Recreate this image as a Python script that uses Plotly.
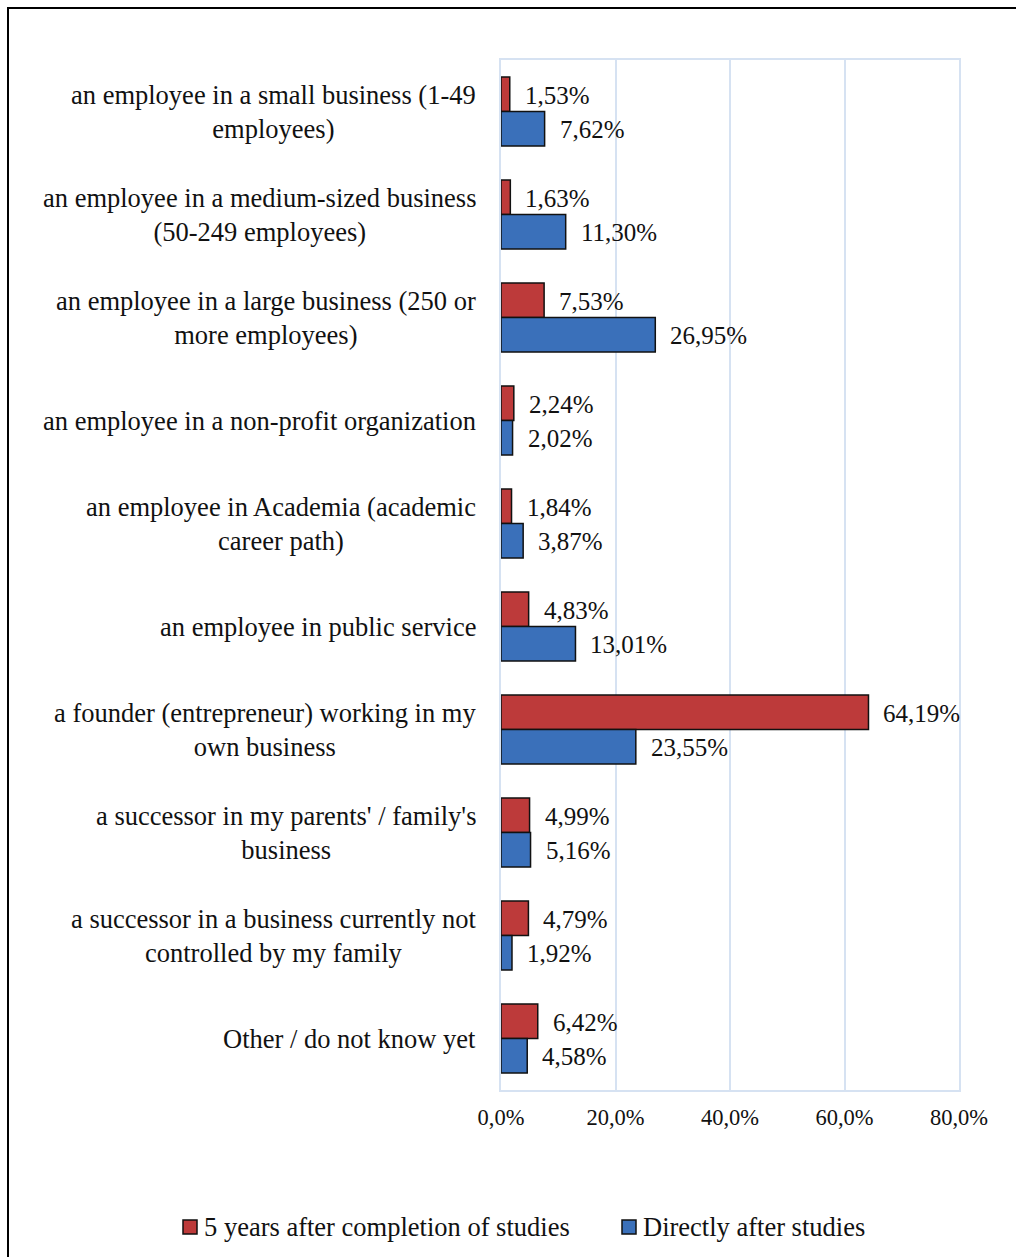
import plotly.graph_objects as go

categories = [
    "an employee in a small business (1-49<br>employees)",
    "an employee in a medium-sized business<br>(50-249 employees)",
    "an employee in a large business (250 or<br>more employees)",
    "an employee in a non-profit organization",
    "an employee in Academia (academic<br>career path)",
    "an employee in public service",
    "a founder (entrepreneur) working in my<br>own business",
    "a successor in my parents' / family's<br>business",
    "a successor in a business currently not<br>controlled by my family",
    "Other / do not know yet",
]
five_years_after = [1.53, 1.63, 7.53, 2.24, 1.84, 4.83, 64.19, 4.99, 4.79, 6.42]
directly_after = [7.62, 11.30, 26.95, 2.02, 3.87, 13.01, 23.55, 5.16, 1.92, 4.58]
x_ticks = [0, 20, 40, 60, 80]
x_tick_text = ["0,0%", "20,0%", "40,0%", "60,0%", "80,0%"]
series_names = ["5 years after completion of studies", "Directly after studies"]

W, H = 1016, 1257
ML, MR, MT, MB = 501, W - 959, 60, H - 1090
PW, PH = W - ML - MR, H - MT - MB
FONT = '"Liberation Serif", "Times New Roman", Times, serif'
INK = "#111111"
RED, BLUE = "#BD3A3A", "#3A70BA"


def px_x(px):
    """Horizontal pixel position -> paper fraction."""
    return (px - ML) / PW


def px_y(py):
    """Vertical pixel position (from top) -> paper fraction."""
    return (H - MB - py) / PH


def pct(v):
    return f"{v:.2f}".replace(".", ",") + "%"


fig = go.Figure()
fig.add_trace(go.Bar(
    y=categories, x=five_years_after, orientation="h", name=series_names[0],
    marker=dict(color=RED, line=dict(color=INK, width=1.5)),
))
fig.add_trace(go.Bar(
    y=categories, x=directly_after, orientation="h", name=series_names[1],
    marker=dict(color=BLUE, line=dict(color=INK, width=1.5)),
))

annotations = []
# category labels: centred lines, block right-aligned next to the axis
for cat in categories:
    annotations.append(dict(x=0, xref="paper", y=cat, yref="y", text=cat,
                            showarrow=False, xanchor="right", yanchor="middle",
                            align="center", xshift=-23,
                            font=dict(family=FONT, size=26.5, color=INK)))
# value labels beside each bar
for cat, v in zip(categories, five_years_after):
    annotations.append(dict(x=v, y=cat, text=pct(v), showarrow=False,
                            xanchor="left", yanchor="middle", xshift=13, yshift=16,
                            font=dict(family=FONT, size=25, color=INK)))
for cat, v in zip(categories, directly_after):
    annotations.append(dict(x=v, y=cat, text=pct(v), showarrow=False,
                            xanchor="left", yanchor="middle", xshift=13, yshift=-18,
                            font=dict(family=FONT, size=25, color=INK)))

# outer frame of the chart
shapes = [dict(type="rect", xref="paper", yref="paper",
               x0=px_x(8), x1=px_x(W + 20), y0=px_y(H + 20), y1=px_y(8),
               line=dict(color="#000000", width=2), fillcolor="rgba(0,0,0,0)",
               layer="below")]

# legend row below the axis
legend_y = 1227
for name, color, sx in zip(series_names, [RED, BLUE], [183, 622]):
    shapes.append(dict(type="rect", xref="paper", yref="paper",
                       x0=px_x(sx), x1=px_x(sx + 14),
                       y0=px_y(legend_y + 7), y1=px_y(legend_y - 7),
                       fillcolor=color, line=dict(color=INK, width=1.5)))
    annotations.append(dict(x=px_x(sx + 19), y=px_y(legend_y), xref="paper", yref="paper",
                            text=name, showarrow=False, xanchor="left", yanchor="middle",
                            font=dict(family=FONT, size=26.5, color=INK)))

fig.update_layout(
    width=W, height=H,
    margin=dict(l=ML, r=MR, t=MT, b=MB),
    paper_bgcolor="white", plot_bgcolor="white",
    barmode="group", bargap=0.33, bargroupgap=0,
    showlegend=False,
    font=dict(family=FONT, size=22, color=INK),
    annotations=annotations,
    shapes=shapes,
    xaxis=dict(range=[0, 80], tickvals=x_ticks, ticktext=x_tick_text,
               showgrid=True, gridcolor="#D6E2F2", gridwidth=2,
               showline=True, linecolor="#D6E2F2", linewidth=2, mirror=True,
               zeroline=False, ticks="", ticklabelstandoff=6,
               tickfont=dict(family=FONT, size=22.5, color=INK)),
    yaxis=dict(autorange="reversed", showgrid=False, ticks="", showticklabels=False,
               showline=True, linecolor="#D6E2F2", linewidth=2, mirror=True),
)

fig.write_html("out.html")
